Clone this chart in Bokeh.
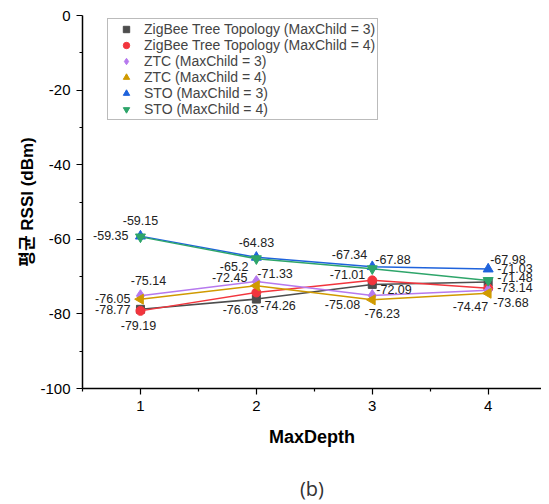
from bokeh.plotting import figure
from bokeh.models import (ColumnDataSource, Legend, LegendItem, FixedTicker, LinearAxis,
                          PrintfTickFormatter)
from bokeh.core.properties import value
from bokeh.embed import file_html
from bokeh.resources import INLINE

# ---- data ----
max_depth = [1, 2, 3, 4]
zigbee_mc3 = [-78.77, -76.03, -72.09, -71.48]
zigbee_mc4 = [-79.19, -74.26, -71.01, -73.14]
ztc_mc3 = [-75.14, -71.33, -75.08, -73.68]
ztc_mc4 = [-76.05, -72.45, -76.23, -74.47]
sto_mc3 = [-59.15, -64.83, -67.34, -67.98]
sto_mc4 = [-59.35, -65.2, -67.88, -71.03]
series_names = [
    "ZigBee Tree Topology (MaxChild = 3)",
    "ZigBee Tree Topology (MaxChild = 4)",
    "ZTC (MaxChild = 3)",
    "ZTC (MaxChild = 4)",
    "STO (MaxChild = 3)",
    "STO (MaxChild = 4)",
]
x_ticks = [1, 2, 3, 4]
x_minor_ticks = [0.5, 1.5, 2.5, 3.5, 4.5]
y_ticks = [0, -20, -40, -60, -80, -100]
y_minor_ticks = [-10, -30, -50, -70, -90]
caption = "(b)"

# ---- styles ----
colors = ["#4d4d4d", "#f2353d", "#b679ee", "#d09a00", "#1f63dc", "#2ea56a"]
markers = ["square", "circle", "diamond", "triangle", "triangle", "inverted_triangle"]
marker_sizes = [8, 9, 12, 10, 10, 10]
marker_angles = [0, 0, 0, 1.5708, 0, 0]
# label placement (dx, dy in px, align) per series per point
label_dx = [[-10, -16, 4, 9], [-2, 4, -7, 9], [8, 1, -12, 5],
            [-10, -9, 10, 0], [0, 0, -5, 2], [-12, -8, 3, 9]]
label_dy = [[0, 10, 5, -5], [15, 13, -6, -1], [-15, -8, 9, 12],
            [-1, -8, 14, 13], [-16, -15, -12, -10], [-1, 8, -9, -12]]
label_align = [["right", "center", "left", "left"], ["center", "left", "right", "left"],
               ["center", "left", "right", "left"], ["right", "right", "center", "right"],
               ["center", "center", "right", "left"], ["right", "right", "left", "left"]]

FONT = "Liberation Sans"

p = figure(width=541, height=504, output_backend="svg", toolbar_location=None,
           x_range=(0.5, 4.46), y_range=(-100, 0),
           min_border_left=82, min_border_right=0, min_border_top=15, min_border_bottom=116)
p.grid.visible = False
p.outline_line_color = None
p.background_fill_color = "white"
p.border_fill_color = "white"

all_series = [zigbee_mc3, zigbee_mc4, ztc_mc3, ztc_mc4, sto_mc3, sto_mc4]
items = []
for i, ys in enumerate(all_series):
    src = ColumnDataSource(dict(x=max_depth, y=ys))
    p.line("x", "y", source=src, line_color=colors[i], line_width=1.5)
    r = p.scatter("x", "y", source=src, marker=markers[i], size=marker_sizes[i],
                  angle=marker_angles[i], fill_color=colors[i], line_color=colors[i])
    items.append(LegendItem(label=series_names[i], renderers=[r]))

for i, ys in enumerate(all_series):
    src = ColumnDataSource(dict(
        x=max_depth, y=ys, lab=[f"{v:g}" for v in ys],
        dx=label_dx[i], dy=label_dy[i], al=label_align[i]))
    p.text("x", "y", text="lab", source=src, x_offset="dx", y_offset="dy",
           text_align="al", text_baseline="middle", text_font=value(FONT),
           text_font_size="12.5px", text_color="#222222")

legend = Legend(items=items, location=(25, 268), padding=2, spacing=0,
                glyph_width=32, glyph_height=16, label_height=16, label_standoff=2,
                label_text_font=FONT, label_text_font_size="14px",
                border_line_color="#777777", border_line_width=1,
                background_fill_alpha=1.0, margin=0)
p.add_layout(legend, "center")

# axes
p.xaxis.ticker = FixedTicker(ticks=x_ticks, minor_ticks=x_minor_ticks)
p.yaxis.ticker = FixedTicker(ticks=y_ticks, minor_ticks=y_minor_ticks)
p.xaxis.formatter = PrintfTickFormatter(format="%d")
p.yaxis.formatter = PrintfTickFormatter(format="%d")
for ax in (p.xaxis[0], p.yaxis[0]):
    ax.axis_line_width = 1.5
    ax.axis_line_color = "black"
    ax.major_tick_line_color = "black"
    ax.minor_tick_line_color = "black"
    ax.major_tick_line_width = 1.2
    ax.minor_tick_line_width = 1.2
    ax.major_tick_out = 6
    ax.major_tick_in = 0
    ax.minor_tick_out = 3
    ax.minor_tick_in = 0
    ax.major_label_text_font = FONT
    ax.major_label_text_font_size = "15px"
    ax.major_label_text_color = "black"
    ax.axis_label_text_font_style = "bold"
    ax.axis_label_text_color = "black"

p.xaxis.axis_label = "MaxDepth"
p.xaxis.axis_label_text_font = FONT
p.xaxis.axis_label_text_font_size = "18px"
p.xaxis.major_label_standoff = 6
p.xaxis.axis_label_standoff = 13

p.yaxis.axis_label = "평균 RSSI (dBm)"
p.yaxis.axis_label_text_font = "Liberation Sans, 'Noto Sans CJK KR'"
p.yaxis.axis_label_text_font_size = "17px"
p.yaxis.major_label_standoff = 6
p.yaxis.axis_label_standoff = 0

# caption "(b)" as the label of a bare secondary axis below
cap_axis = LinearAxis(ticker=FixedTicker(ticks=[]), axis_line_color=None,
                      major_tick_line_color=None, minor_tick_line_color=None,
                      major_tick_out=0, minor_tick_out=0, major_label_standoff=0,
                      axis_label=caption, axis_label_standoff=25,
                      axis_label_text_font="Open Sans", axis_label_text_font_style="normal",
                      axis_label_text_font_size="20px", axis_label_text_color="#333333")
p.add_layout(cap_axis, "below")

open("out.html", "w").write(file_html(p, INLINE))
